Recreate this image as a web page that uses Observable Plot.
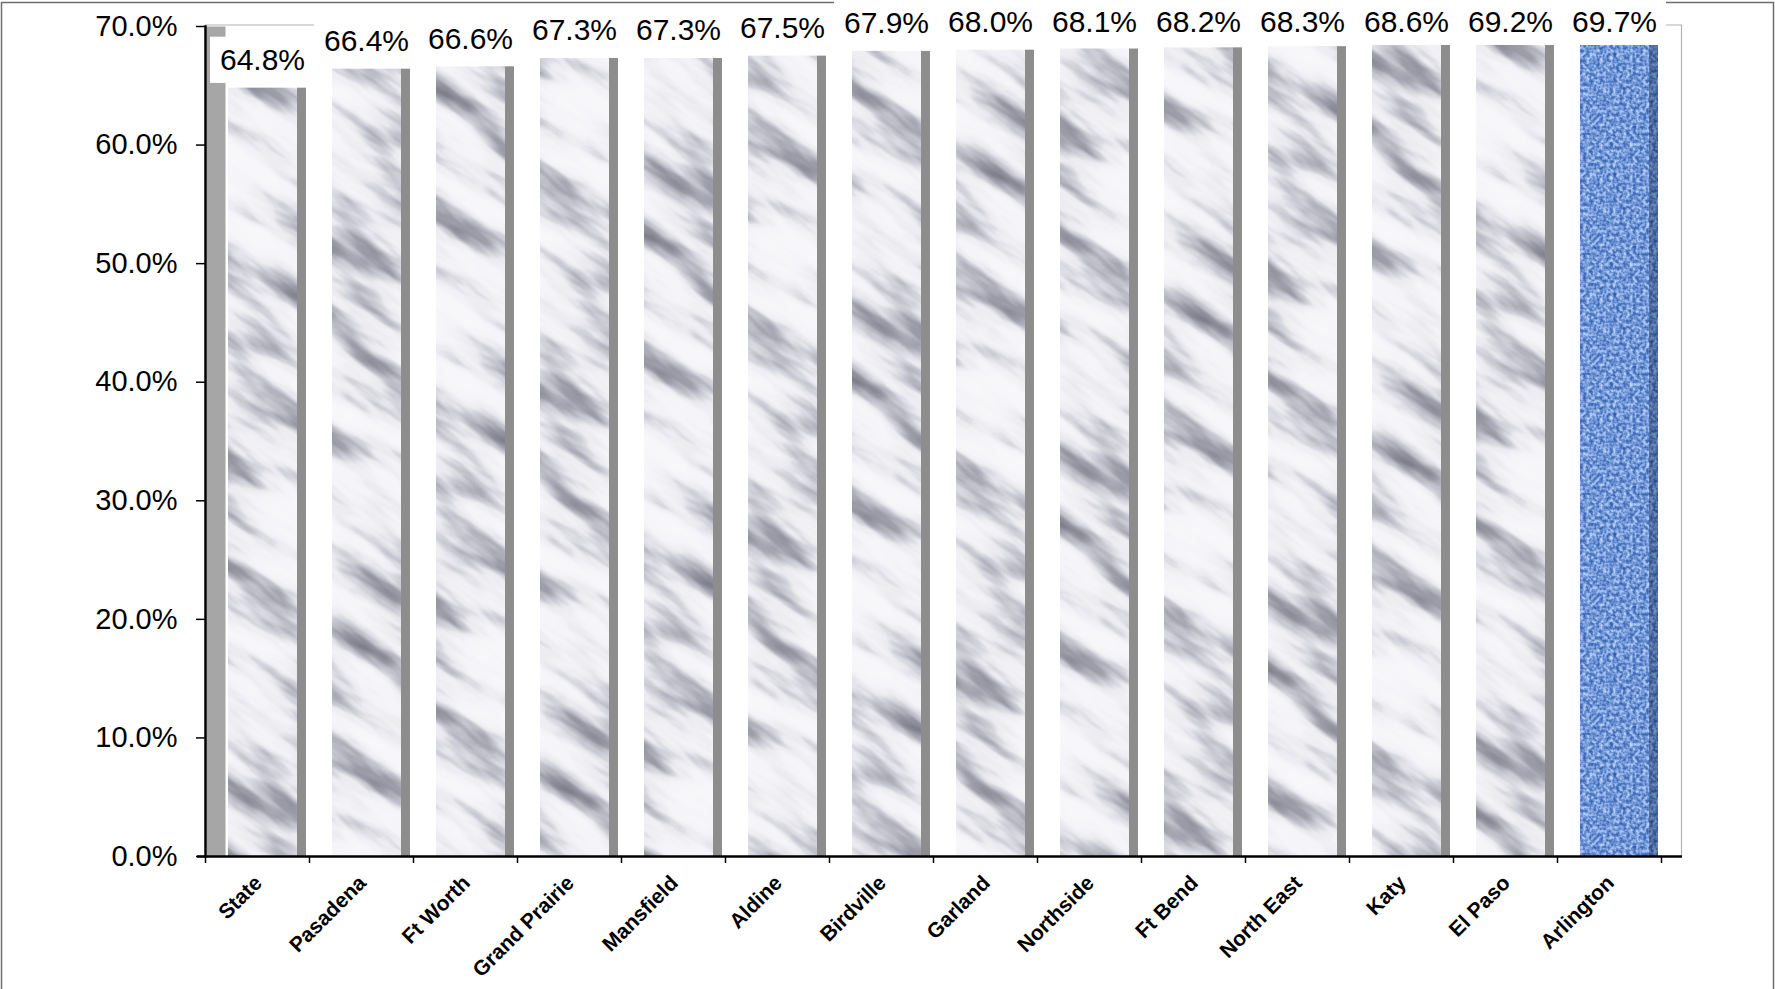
<!DOCTYPE html>
<html><head><meta charset="utf-8">
<script src="https://cdn.jsdelivr.net/npm/d3@7"></script>
<script src="https://cdn.jsdelivr.net/npm/@observablehq/plot@0.6"></script>
<style>html,body{margin:0;padding:0;background:#fff;overflow:hidden} #chart svg{display:block}</style>
</head><body><div id="chart"></div>
<script>
// ---- data ----
const districts = ["State","Pasadena","Ft Worth","Grand Prairie","Mansfield","Aldine","Birdville","Garland","Northside","Ft Bend","North East","Katy","El Paso","Arlington"];
const rates = [64.8,66.4,66.6,67.3,67.3,67.5,67.9,68.0,68.1,68.2,68.3,68.6,69.2,69.7];
const highlight = "Arlington";
const yTicks = [0,10,20,30,40,50,60,70];

const data = districts.map((name, i) => ({name, rate: rates[i]}));
const plain = data.filter(d => d.name !== highlight);
const focus = data.filter(d => d.name === highlight);
const labelY = d => Math.min(d.rate + 2.35, 70.35);
const fmt = v => v.toFixed(1) + "%";

const chart = Plot.plot({
  width: 1775, height: 989,
  marginLeft: 205, marginRight: 114, marginTop: 26, marginBottom: 133,
  style: {fontFamily: "Arial, 'Liberation Sans', sans-serif", background: "white", overflow: "visible", color: "black"},
  x: {domain: districts, padding: 0, label: null},
  y: {domain: [0, 70], label: null},
  marks: [
    // 3D walls
    Plot.frame({anchor: "left", stroke: "#a6a6a6", strokeWidth: 19, strokeLinecap: "butt", dx: 10.5}),
    Plot.ruleY([70], {stroke: "#b4b4b4", strokeWidth: 1.2, insetRight: -20, dy: -1.5}),
    Plot.frame({anchor: "right", stroke: "#b4b4b4", strokeWidth: 1.2, dx: 20, dy: -1.5}),
    // bars
    Plot.barY(plain, {x: "name", y: "rate", fill: "url(#marble)", insetLeft: 23, insetRight: 12}),
    Plot.barY(plain, {x: "name", y: "rate", fill: "url(#marbleSide)", insetLeft: 92, insetRight: 3}),
    Plot.barY(focus, {x: "name", y: "rate", fill: "url(#weave)", insetLeft: 23, insetRight: 12}),
    Plot.barY(focus, {x: "name", y: "rate", fill: "url(#weaveSide)", insetLeft: 92, insetRight: 3}),
    // axes
    Plot.ruleY([0], {stroke: "black", strokeWidth: 2.5, insetLeft: -8, insetRight: -21}),
    Plot.frame({anchor: "left", stroke: "black", strokeWidth: 2.5}),
    Plot.axisY({ticks: yTicks, tickSize: 9, tickPadding: 19, fontSize: 29, tickFormat: fmt, strokeWidth: 1.5, color: "black", label: null}),
    Plot.axisX({tickSize: 0, tickRotate: -45, fontSize: 21, fontWeight: "bold", tickPadding: 23, dx: 1, color: "black", label: null}),
    Plot.axisX({text: null, tickSize: 7, dx: -52, color: "black", strokeWidth: 1.5, label: null}),
    Plot.axisX({ticks: [highlight], text: null, tickSize: 7, dx: 52, color: "black", strokeWidth: 1.5, label: null}),
    // value labels with white boxes
    Plot.barY(data, {x: "name", y1: d => labelY(d) - 1.95, y2: d => labelY(d) + 1.95, fill: "white", dx: 5}),
    Plot.text(data, {x: "name", y: labelY, text: d => fmt(d.rate), fontSize: 30, dx: 5, fill: "black"})
  ]
});

const svg = d3.select(chart);
svg.insert("defs", ":first-child").html(`
  <filter id="mf" x="0" y="0" width="100%" height="100%" color-interpolation-filters="sRGB">
    <feTurbulence type="fractalNoise" baseFrequency="0.008 0.032" numOctaves="4" seed="11" stitchTiles="stitch"/>
    <feColorMatrix type="matrix" values="1 0 0 0 0  1 0 0 0 0  1 0 0 0 0  0 0 0 0 1"/>
    <feComponentTransfer>
      <feFuncR type="table" tableValues="0.45 0.52 0.62 0.78 0.92 0.96 0.97 0.97 0.97"/>
      <feFuncG type="table" tableValues="0.45 0.52 0.62 0.78 0.92 0.96 0.97 0.97 0.97"/>
      <feFuncB type="table" tableValues="0.5 0.57 0.67 0.82 0.94 0.975 0.98 0.98 0.98"/>
    </feComponentTransfer>
  </filter>
  <pattern id="marble" width="250" height="250" patternUnits="userSpaceOnUse" patternTransform="rotate(35)">
    <rect width="250" height="250" filter="url(#mf)"/>
  </pattern>
  <pattern id="marbleSide" width="250" height="250" patternUnits="userSpaceOnUse">
    <rect width="250" height="250" fill="#8d8d8d"/>
  </pattern>
  <filter id="wf" x="0" y="0" width="100%" height="100%" color-interpolation-filters="sRGB">
    <feTurbulence type="fractalNoise" baseFrequency="0.3 0.3" numOctaves="2" seed="3" stitchTiles="stitch"/>
    <feColorMatrix type="matrix" values="1 0 0 0 0  1 0 0 0 0  1 0 0 0 0  0 0 0 0 1"/>
    <feComponentTransfer>
      <feFuncR type="table" tableValues="0.16 0.22 0.34 0.56 0.74 0.82"/>
      <feFuncG type="table" tableValues="0.3 0.38 0.5 0.69 0.83 0.89"/>
      <feFuncB type="table" tableValues="0.58 0.66 0.78 0.91 0.97 0.99"/>
    </feComponentTransfer>
  </filter>
  <pattern id="weave" width="120" height="120" patternUnits="userSpaceOnUse">
    <rect width="120" height="120" filter="url(#wf)"/>
  </pattern>
  <pattern id="weaveSide" width="120" height="120" patternUnits="userSpaceOnUse">
    <rect width="120" height="120" filter="url(#wf)"/>
    <rect width="120" height="120" fill="#0d1f45" fill-opacity="0.35"/>
  </pattern>
`);
svg.insert("rect", ":first-child")
  .attr("x", 1.5).attr("y", 2.5).attr("width", 1772).attr("height", 995)
  .attr("fill", "white").attr("stroke", "#6e6e6e").attr("stroke-width", 1.5);

document.getElementById("chart").appendChild(chart);
</script>
</body></html>
